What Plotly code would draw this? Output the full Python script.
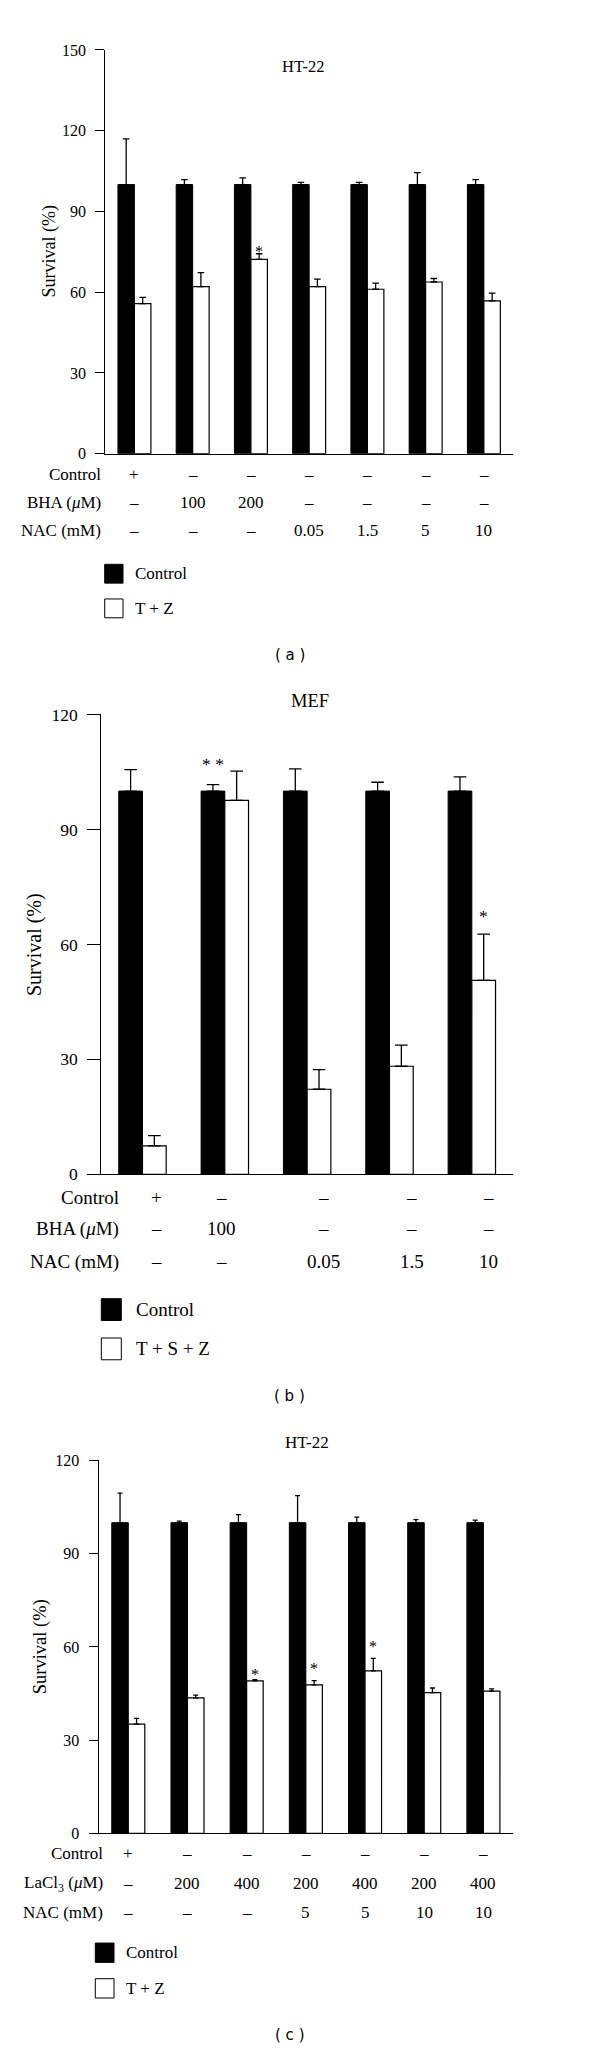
import plotly.graph_objects as go

# ---------------- DATA ----------------
# Panel (a) HT-22
a_control = [100, 100, 100, 100, 100, 100, 100]
a_control_err = [17, 1.8, 2.5, 0.8, 0.8, 4.4, 1.8]
a_treat = [55.8, 62.1, 72.2, 62.1, 61.1, 63.8, 56.8]
a_treat_err = [2.3, 5.2, 2.1, 2.8, 2.3, 1.3, 2.9]
a_row_names = ["Control", "BHA (<i>μ</i>M)", "NAC (mM)"]
a_row_control = ["+", "–", "–", "–", "–", "–", "–"]
a_row_bha = ["–", "100", "200", "–", "–", "–", "–"]
a_row_nac = ["–", "–", "–", "0.05", "1.5", "5", "10"]
a_sig = [(2, "treat", "*")]

# Panel (b) MEF
b_control = [100, 100, 100, 100, 100]
b_control_err = [5.6, 1.7, 5.8, 2.3, 3.7]
b_treat = [7.4, 97.6, 22.2, 28.2, 50.6]
b_treat_err = [2.7, 7.6, 5.1, 5.5, 12.1]
b_row_names = ["Control", "BHA (<i>μ</i>M)", "NAC (mM)"]
b_row_control = ["+", "–", "–", "–", "–"]
b_row_bha = ["–", "100", "–", "–", "–"]
b_row_nac = ["–", "–", "0.05", "1.5", "10"]
b_sig = [(1, "control", "* *"), (4, "treat", "*")]

# Panel (c) HT-22
c_control = [100, 100, 100, 100, 100, 100, 100]
c_control_err = [9.5, 0.5, 2.6, 8.7, 1.8, 1.0, 0.8]
c_treat = [35.2, 43.6, 49.1, 47.8, 52.3, 45.3, 45.8]
c_treat_err = [1.8, 0.9, 0.4, 1.4, 4.0, 1.5, 0.7]
c_row_names = ["Control", "LaCl<sub>3</sub> (<i>μ</i>M)", "NAC (mM)"]
c_row_control = ["+", "–", "–", "–", "–", "–", "–"]
c_row_lacl = ["–", "200", "400", "200", "400", "200", "400"]
c_row_nac = ["–", "–", "–", "5", "5", "10", "10"]
c_sig = [(2, "treat", "*"), (3, "treat", "*"), (4, "treat", "*")]

# ---------------- LAYOUT HELPERS ----------------
W, H = 600, 2051
SERIF = "Liberation Serif"


def px_x(p):
    return p / W


def px_y(p):
    return 1 - p / H


fig = go.Figure()
annotations = []
shapes = []

panels = [
    dict(ctrl=a_control, ce=a_control_err, trt=a_treat, te=a_treat_err,
         rows=[a_row_control, a_row_bha, a_row_nac], names=a_row_names,
         sig=a_sig, sig_shift=[6], title="HT-22", treat_name="T + Z",
         xd=(97.3, 505), yd=(32.3, 440), yr=150, bw=0.283, cap=3.3,
         tickfs=16, titlefs=18, rowfs=17, ticklen=9,
         title_pos=(295, 49), ytitle_x=41.7,
         row_y=[460.7, 489, 517.3], row_label_x=95, col_pos=None,
         leg_x=(96.7, 115), leg_y=(551.7, 586.7), leg_text_x=125, leg_sz=19,
         tag="( a )", tag_y=643),
    dict(ctrl=b_control, ce=b_control_err, trt=b_treat, te=b_treat_err,
         rows=[b_row_control, b_row_bha, b_row_nac], names=b_row_names,
         sig=b_sig, sig_shift=[23, 20], title="MEF", treat_name="T + S + Z",
         xd=(93.3, 505), yd=(703.3, 1167.7), yr=120, bw=0.288, cap=6.3,
         tickfs=17.5, titlefs=20, rowfs=19, ticklen=13,
         title_pos=(301.7, 690), ytitle_x=26.7,
         row_y=[1190.7, 1222.7, 1256], row_label_x=112.7,
         col_pos=[0.17, 0.96, 2.2, 3.27, 4.2],
         leg_x=(93.3, 113.3), leg_y=(1293.3, 1333), leg_text_x=126, leg_sz=22,
         tag="( b )", tag_y=1391.7),
    dict(ctrl=c_control, ce=c_control_err, trt=c_treat, te=c_treat_err,
         rows=[c_row_control, c_row_lacl, c_row_nac], names=c_row_names,
         sig=c_sig, sig_shift=[9, 16, 15], title="HT-22", treat_name="T + Z",
         xd=(90.7, 505), yd=(1456.7, 1833.3), yr=120, bw=0.279, cap=2.5,
         tickfs=16, titlefs=18.5, rowfs=17, ticklen=9,
         title_pos=(299, 1438.3), ytitle_x=33.3,
         row_y=[1854, 1884, 1912.7], row_label_x=97.3, col_pos=None,
         leg_x=(87.3, 106), leg_y=(1944, 1980), leg_text_x=116, leg_sz=19.5,
         tag="( c )", tag_y=2036.7),
]

for i, p in enumerate(panels):
    k = "" if i == 0 else str(i + 1)
    xa, ya = "x" + k, "y" + k
    n = len(p["ctrl"])
    xs = list(range(n))
    bw = p["bw"]
    fig.add_trace(go.Bar(
        x=xs, y=p["ctrl"], width=bw, offset=-bw, xaxis=xa, yaxis=ya,
        marker=dict(color="black", line=dict(color="black", width=1)),
        error_y=dict(type="data", symmetric=False, array=p["ce"],
                     arrayminus=[0] * n, color="black", thickness=1.3,
                     width=p["cap"]),
        name="Control", showlegend=False))
    fig.add_trace(go.Bar(
        x=xs, y=p["trt"], width=bw, offset=0, xaxis=xa, yaxis=ya,
        marker=dict(color="white", line=dict(color="black", width=1.2)),
        error_y=dict(type="data", symmetric=False, array=p["te"],
                     arrayminus=[0] * n, color="black", thickness=1.3,
                     width=p["cap"]),
        name=p["treat_name"], showlegend=False))

    xd = [px_x(p["xd"][0]), px_x(p["xd"][1])]
    yd = [px_y(p["yd"][1]), px_y(p["yd"][0])]
    fig.update_layout(**{
        ("xaxis" + k): dict(domain=xd, anchor=ya, range=[-0.5, n - 0.5],
                            showline=True, linecolor="black", linewidth=1.3,
                            showticklabels=False, ticks="", showgrid=False,
                            zeroline=False, fixedrange=True),
        ("yaxis" + k): dict(domain=yd, anchor=xa, range=[0, p["yr"]],
                            tickvals=list(range(0, p["yr"] + 1, 30)),
                            showline=True, linecolor="black", linewidth=1.3,
                            ticks="outside", ticklen=p["ticklen"], tickwidth=1.3,
                            tickcolor="black", showgrid=False, zeroline=False,
                            ticklabelstandoff=6,
                            tickfont=dict(family=SERIF, size=p["tickfs"], color="black")),
    })

    # title
    annotations.append(dict(text=p["title"], xref="paper", yref="paper",
                            x=px_x(p["title_pos"][0]), y=px_y(p["title_pos"][1]),
                            xanchor="center", yanchor="middle", showarrow=False,
                            font=dict(family=SERIF, size=p["titlefs"] - 1.5, color="black")))
    # y title
    annotations.append(dict(text="Survival (%)", xref="paper", yref="paper",
                            x=px_x(p["ytitle_x"]),
                            y=px_y((p["yd"][0] + p["yd"][1]) / 2),
                            textangle=-90, xanchor="center", yanchor="middle",
                            showarrow=False,
                            font=dict(family=SERIF, size=p["titlefs"], color="black")))
    # significance marks
    for (g, side, txt), sh in zip(p["sig"], p["sig_shift"]):
        if side == "treat":
            xv = g + bw / 2
            yv = p["trt"][g] + p["te"][g]
        else:
            xv = g - bw / 2
            yv = p["ctrl"][g] + p["ce"][g]
        annotations.append(dict(text=txt, xref=xa, yref=ya, x=xv, y=yv,
                                xanchor="center", yanchor="bottom", yshift=sh - 14,
                                showarrow=False,
                                font=dict(family=SERIF, size=p["tickfs"], color="black")))
    # rows of treatment labels
    cols = p["col_pos"] if p["col_pos"] is not None else xs
    for r, (name, vals) in enumerate(zip(p["names"], p["rows"])):
        yy = px_y(p["row_y"][r])
        annotations.append(dict(text=name, xref="paper", yref="paper",
                                x=px_x(p["row_label_x"]), y=yy, xanchor="right",
                                yanchor="middle", showarrow=False,
                                font=dict(family=SERIF, size=p["rowfs"], color="black")))
        for cx, v in zip(cols, vals):
            annotations.append(dict(text=v, xref=xa, yref="paper", x=cx, y=yy,
                                    xanchor="center", yanchor="middle", showarrow=False,
                                    font=dict(family=SERIF, size=p["rowfs"], color="black")))
    # legend
    for j, (fill, label) in enumerate([("black", "Control"), ("white", p["treat_name"])]):
        top = p["leg_y"][j]
        shapes.append(dict(type="rect", xref="paper", yref="paper",
                           x0=px_x(p["leg_x"][0]), x1=px_x(p["leg_x"][1]),
                           y0=px_y(top + p["leg_sz"]), y1=px_y(top),
                           fillcolor=fill, line=dict(color="black", width=1)))
        annotations.append(dict(text=label, xref="paper", yref="paper",
                                x=px_x(p["leg_text_x"]), y=px_y(top + p["leg_sz"] / 2),
                                xanchor="left", yanchor="middle", showarrow=False,
                                font=dict(family=SERIF, size=p["rowfs"], color="black")))
    # panel tag
    annotations.append(dict(text=p["tag"], xref="paper", yref="paper",
                            x=px_x(281.7), y=px_y(p["tag_y"]), xanchor="center",
                            yanchor="middle", showarrow=False,
                            font=dict(family="DejaVu Sans", size=15, color="black")))

fig.update_layout(width=W, height=H, margin=dict(l=0, r=0, t=0, b=0),
                  paper_bgcolor="white", plot_bgcolor="white",
                  barmode="overlay", showlegend=False,
                  annotations=annotations, shapes=shapes)

fig.write_html("out.html")
